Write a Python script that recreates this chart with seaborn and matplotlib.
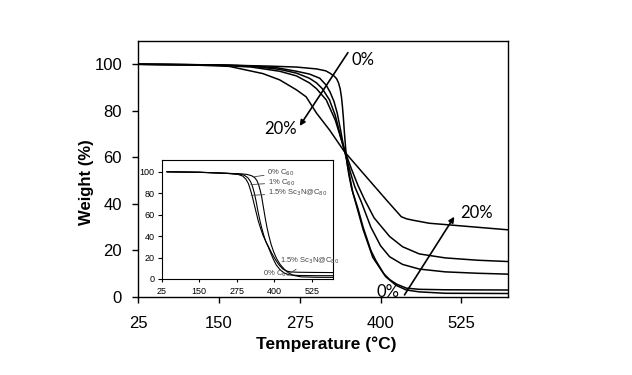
import matplotlib
matplotlib.use("Agg")
import matplotlib.pyplot as plt
import pandas as pd
import seaborn as sns

# ---------------- main plot data (TGA curves, 0% ... 20%) ----------------
samples = ["0%", "5%", "10%", "15%", "20%"]

temp_0 = [25, 100, 166, 230, 270, 301, 315, 321, 328, 332, 335, 337.5, 339.5, 341, 342.5, 344, 346, 348, 351, 355, 362, 373, 388, 408, 424, 440, 460, 500, 600]
weight_0 = [100, 99.9, 99.6, 99.2, 98.8, 98, 97.2, 96.3, 95, 93.8, 92, 89.5, 86, 82, 77, 71, 64, 58, 52.5, 47, 40, 29, 17, 8.7, 5, 3, 2.2, 1.6, 1.5]

temp_1 = [25, 150, 200, 240, 270, 290, 306, 316, 322, 328, 333, 338, 342, 346, 350, 357, 365, 373, 385, 393, 405, 414, 425, 440, 460, 500, 600]
weight_1 = [100, 99.7, 99.3, 98.5, 97, 95.8, 94, 91, 88, 84, 79, 72, 66, 61, 55, 45, 38, 30, 20, 15.5, 10, 7.5, 5.5, 3.8, 3.3, 3.1, 3.0]

temp_2 = [25, 150, 200, 244, 270, 290, 301, 310, 321, 330, 340, 345, 355, 360, 370, 385, 400, 414, 434, 460, 500, 550, 600]
weight_2 = [100, 99.7, 99.2, 97.8, 96.2, 94, 92, 89.5, 84.7, 78, 67, 62, 52, 47.5, 41, 30, 22, 17.3, 14, 12, 10.8, 10.2, 9.8]

temp_3 = [25, 150, 200, 244, 270, 290, 301, 316, 330, 340, 345, 355, 365, 375, 390, 414, 434, 460, 500, 550, 600]
weight_3 = [100, 99.6, 98.8, 97, 95, 92, 89.5, 84.7, 76, 67, 62.5, 55, 48, 42, 34, 26, 21.6, 18.5, 16.8, 15.8, 15.2]

temp_4 = [25, 100, 166, 218, 244, 270, 285, 301, 321, 344, 373, 409, 424, 432, 440, 450, 475, 527, 600]
weight_4 = [100, 99.8, 99.1, 96, 93.3, 89, 86, 79, 71.8, 62.5, 53.2, 41.7, 37, 34.5, 33.6, 33, 31.7, 30.5, 28.8]

# ---------------- inset data ----------------
inset_samples = ["0% C60", "1% C60", "1.5% Sc3N@C80"]

in_temp_0 = [42, 150, 242, 290, 310, 325, 335, 342, 348, 353, 358, 364, 370, 376, 382, 390, 398, 408, 420, 434, 447, 462, 490, 540, 597]
in_weight_0 = [100, 99.6, 98.6, 98.1, 97.5, 96.3, 94.5, 92, 88, 83, 77, 67, 57, 48, 40.5, 32, 25.5, 19, 13.5, 9, 6, 3.5, 2, 1.6, 1.5]

in_temp_1 = [42, 150, 242, 285, 300, 312, 321, 328, 334, 340, 346, 352, 358, 365, 372, 380, 388, 397, 407, 420, 434, 450, 480, 540, 597]
in_weight_1 = [100, 99.6, 98.6, 97.8, 96.8, 94.5, 91, 86, 80, 72, 63, 55, 48, 41, 35, 30, 24.5, 18.5, 13, 8.5, 5.5, 3.9, 3.3, 3.1, 3.1]

in_temp_2 = [42, 150, 242, 280, 295, 306, 314, 321, 327, 333, 340, 347, 355, 363, 372, 382, 392, 403, 415, 428, 440, 455, 480, 540, 597]
in_weight_2 = [100, 99.5, 98.5, 97.5, 96, 93, 89, 83, 77, 70, 62, 54, 47, 40.5, 35, 29.5, 24, 18.5, 13.5, 9.5, 7.5, 6.6, 6.3, 6.1, 6.0]

x_ticks = [25, 150, 275, 400, 525]
y_ticks = [0, 20, 40, 60, 80, 100]

# ---------------- build frames ----------------
main_df = pd.concat([
    pd.DataFrame({"Temperature": t, "Weight": w, "sample": s})
    for t, w, s in zip([temp_0, temp_1, temp_2, temp_3, temp_4],
                       [weight_0, weight_1, weight_2, weight_3, weight_4], samples)
], ignore_index=True)

inset_df = pd.concat([
    pd.DataFrame({"Temperature": t, "Weight": w, "sample": s})
    for t, w, s in zip([in_temp_0, in_temp_1, in_temp_2],
                       [in_weight_0, in_weight_1, in_weight_2], inset_samples)
], ignore_index=True)

sns.set_style("ticks")
plt.rcParams["font.family"] = ["Liberation Sans", "DejaVu Sans"]
plt.rcParams["axes.linewidth"] = 1.0
plt.rcParams["text.color"] = "black"
plt.rcParams["axes.labelcolor"] = "black"

W, H = 632, 375
fig = plt.figure(figsize=(W / 100, H / 100), dpi=100)

# main axes
ax = fig.add_axes([138 / W, (H - 297) / H, 370 / W, 256 / H])
sns.lineplot(data=main_df, x="Temperature", y="Weight", hue="sample",
             palette=["black"] * len(samples), units="sample", estimator=None,
             sort=False, legend=False, linewidth=1.1, ax=ax)
ax.set_xlim(25, 597)
ax.set_ylim(0, 110)
ax.set_xticks(x_ticks)
ax.set_yticks(y_ticks)
ax.tick_params(axis="both", direction="out", length=4.5, width=1.0,
               labelsize=12, pad=7, colors="black")
ax.tick_params(axis="x", pad=9)
for sp in ax.spines.values():
    sp.set_visible(True)
    sp.set_color("black")
    sp.set_linewidth(1.0)

narrow = ["Liberation Sans Narrow", "Liberation Sans", "DejaVu Sans"]
ax.set_xlabel("Temperature (°C)", fontsize=12.5, fontweight="bold", family=narrow,
              color="black")
ax.set_ylabel("Weight (%)", fontsize=12, fontweight="bold", family=narrow,
              color="black")
ax.xaxis.set_label_coords(0.508, -0.155)
ax.yaxis.set_label_coords(-0.118, 0.45)

# annotations on main plot
afont = ["Lato", "DejaVu Sans"]
arrow = dict(arrowstyle="-|>", color="black", lw=1.2, mutation_scale=8,
             shrinkA=0, shrinkB=0)
ax.annotate("", xy=(275, 73.5), xytext=(349.5, 105), arrowprops=arrow)
ax.text(355, 102, "0%", fontsize=12, family=afont, ha="left", va="center")
ax.text(245.7, 72.3, "20%", fontsize=12, family=afont, ha="center", va="center")
ax.annotate("", xy=(514, 34.5), xytext=(437, 0.9), arrowprops=arrow,
            annotation_clip=False)
ax.text(548, 36.1, "20%", fontsize=12, family=afont, ha="center", va="center")
ax.text(412, 2.0, "0%", fontsize=12, family=afont, ha="center", va="center",
        clip_on=False)

# inset axes
axi = fig.add_axes([161.7 / W, (H - 279) / H, (333.3 - 161.7) / W, 119 / H])
axi.set_facecolor("white")
sns.lineplot(data=inset_df, x="Temperature", y="Weight", hue="sample",
             palette=["black"] * len(inset_samples), units="sample",
             estimator=None, sort=False, legend=False, linewidth=0.8, ax=axi)
axi.set_xlim(25, 597)
axi.set_ylim(0, 111)
axi.set_xticks(x_ticks)
axi.set_yticks(y_ticks)
axi.tick_params(axis="both", direction="out", length=3, width=0.8,
                labelsize=6.5, pad=2, colors="black")
axi.tick_params(axis="x", length=2, pad=4)
axi.set_xlabel("")
axi.set_ylabel("")
for sp in axi.spines.values():
    sp.set_visible(True)
    sp.set_color("black")
    sp.set_linewidth(0.8)

gray = "#444444"
lead = dict(arrowstyle="-", color=gray, lw=0.6, shrinkA=0, shrinkB=0)
fs = 5.5
axi.annotate("0% C$_{60}$", xy=(334, 95.4), xytext=(377, 99), fontsize=fs,
             color=gray, va="center", ha="left", arrowprops=lead)
axi.annotate("1% C$_{60}$", xy=(322, 88), xytext=(379, 90), fontsize=fs,
             color=gray, va="center", ha="left", arrowprops=lead)
axi.annotate("1.5% Sc$_3$N@C$_{80}$", xy=(323, 78), xytext=(379, 80.4),
             fontsize=fs, color=gray, va="center", ha="left", arrowprops=lead)
axi.annotate("1.5% Sc$_3$N@C$_{80}$", xy=(453, 5.5), xytext=(419, 17),
             fontsize=fs, color=gray, va="center", ha="left", arrowprops=lead)
axi.text(362, 5.0, "0% C$_{60}$", fontsize=fs, color=gray, va="center", ha="left")

fig.savefig("out.png", dpi=100)
